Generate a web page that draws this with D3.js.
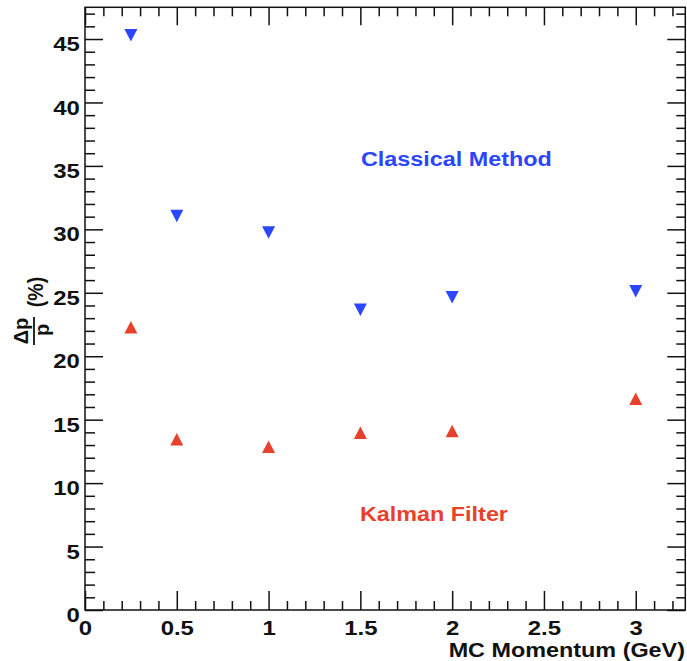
<!DOCTYPE html>
<html>
<head>
<meta charset="utf-8">
<script src="https://cdn.jsdelivr.net/npm/d3@7/dist/d3.min.js"></script>
<style>
  html, body { margin: 0; padding: 0; background: #fff; }
  svg { display: block; }
  text { font-family: "Liberation Sans", Arial, Helvetica, sans-serif; font-weight: bold; }
</style>
</head>
<body>
<svg id="chart" width="687" height="661"></svg>
<script>
// Momentum points (GeV)
const momentum = [0.25, 0.5, 1.0, 1.5, 2.0, 3.0];
// Relative momentum resolution Δp/p (%)
const classicalRes = [45.3, 31.05, 29.75, 23.66, 24.65, 25.12];
const kalmanRes    = [22.28, 13.45, 12.87, 13.97, 14.1, 16.65];

const xMajorTicks = [0, 0.5, 1, 1.5, 2, 2.5, 3];
const yMajorTicks = [0, 5, 10, 15, 20, 25, 30, 35, 40, 45];
const xDomain = [0, 3.27];
const yDomain = [0, 47.5];

const seriesLabels = ["Classical Method", "Kalman Filter"];
const xTitle = "MC Momentum (GeV)";

const blue = "#2a46ff";
const red = "#e8412b";
const stretch = 1.14;

const frame = { left: 85, right: 685.3, top: 7.3, bottom: 610 };

const svg = d3.select("#chart");

const x = d3.scaleLinear().domain(xDomain).range([frame.left, frame.right]);
const y = d3.scaleLinear().domain(yDomain).range([frame.bottom, frame.top]);

const xMinor = d3.range(0, 3.25, 0.1).map(v => +v.toFixed(2)).filter(v => Math.abs(v * 2 - Math.round(v * 2)) > 1e-6);
const yMinor = d3.range(0, 48, 1).filter(v => v % 5 !== 0);

const fmt = d => (d === 0 ? "0" : d3.format("~g")(d));

function styleAxis(g) {
  g.select(".domain").remove();
  g.selectAll(".tick line").attr("stroke", "#111").attr("stroke-width", 1.5);
  g.selectAll(".tick text")
    .attr("fill", "#111")
    .style("font-size", "21px")
    .style("font-weight", "bold");
}

// bottom axis: major ticks with labels, minor ticks
svg.append("g")
  .attr("transform", `translate(0,${frame.bottom})`)
  .call(d3.axisBottom(x).tickValues(xMajorTicks).tickSize(-19).tickPadding(10.5).tickFormat(fmt))
  .call(styleAxis)
  .call(g => g.selectAll(".tick text").attr("transform", `scale(${stretch},1)`));
svg.append("g")
  .attr("transform", `translate(0,${frame.bottom})`)
  .call(d3.axisBottom(x).tickValues(xMinor).tickSize(-9).tickFormat(""))
  .call(styleAxis);

// top axis ticks
svg.append("g")
  .attr("transform", `translate(0,${frame.top})`)
  .call(d3.axisTop(x).tickValues(xMajorTicks).tickSize(-18).tickFormat(""))
  .call(styleAxis);
svg.append("g")
  .attr("transform", `translate(0,${frame.top})`)
  .call(d3.axisTop(x).tickValues(xMinor).tickSize(-9).tickFormat(""))
  .call(styleAxis);

// left axis
svg.append("g")
  .attr("transform", `translate(${frame.left},0)`)
  .call(d3.axisLeft(y).tickValues(yMajorTicks).tickSize(-18).tickPadding(4.5).tickFormat(fmt))
  .call(styleAxis)
  .call(g => g.selectAll(".tick text")
    .attr("dy", "0.55em")
    .attr("transform", `scale(${stretch},1)`));
svg.append("g")
  .attr("transform", `translate(${frame.left},0)`)
  .call(d3.axisLeft(y).tickValues(yMinor).tickSize(-10).tickFormat(""))
  .call(styleAxis);

// right axis ticks
svg.append("g")
  .attr("transform", `translate(${frame.right},0)`)
  .call(d3.axisRight(y).tickValues(yMajorTicks).tickSize(-18).tickFormat(""))
  .call(styleAxis);
svg.append("g")
  .attr("transform", `translate(${frame.right},0)`)
  .call(d3.axisRight(y).tickValues(yMinor).tickSize(-9).tickFormat(""))
  .call(styleAxis);

// frame
svg.append("rect")
  .attr("x", frame.left).attr("y", frame.top)
  .attr("width", frame.right - frame.left).attr("height", frame.bottom - frame.top)
  .attr("fill", "none").attr("stroke", "#111").attr("stroke-width", 1.5);

// triangle markers centred on their bounding box
const tw = 13, th = 12.5;
const triUp = { draw(ctx) { ctx.moveTo(0, -th / 2); ctx.lineTo(tw / 2, th / 2); ctx.lineTo(-tw / 2, th / 2); ctx.closePath(); } };
const triDown = { draw(ctx) { ctx.moveTo(0, th / 2); ctx.lineTo(tw / 2, -th / 2); ctx.lineTo(-tw / 2, -th / 2); ctx.closePath(); } };

svg.append("g").selectAll("path")
  .data(momentum.map((m, i) => [m, classicalRes[i]]))
  .join("path")
  .attr("transform", d => `translate(${x(d[0])},${y(d[1])})`)
  .attr("d", d3.symbol().type(triDown))
  .attr("fill", blue);

svg.append("g").selectAll("path")
  .data(momentum.map((m, i) => [m, kalmanRes[i]]))
  .join("path")
  .attr("transform", d => `translate(${x(d[0])},${y(d[1])})`)
  .attr("d", d3.symbol().type(triUp))
  .attr("fill", red);

// series annotations
svg.append("text")
  .attr("transform", `translate(361,165.5) scale(${stretch},1)`)
  .attr("fill", blue)
  .style("font-size", "20.5px")
  .text(seriesLabels[0]);
svg.append("text")
  .attr("transform", `translate(360,521) scale(${stretch},1)`)
  .attr("fill", red)
  .style("font-size", "20.5px")
  .text(seriesLabels[1]);

// x-axis title
svg.append("text")
  .attr("transform", `translate(685,656.5) scale(1.2,1)`)
  .attr("text-anchor", "end")
  .attr("fill", "#111")
  .style("font-size", "19.5px")
  .text(xTitle);

// y-axis title: Δp/p (%) as a rotated fraction
const yt = svg.append("g").attr("fill", "#111");
yt.append("text")
  .attr("transform", `translate(28,331) rotate(-90)`)
  .attr("text-anchor", "middle")
  .style("font-size", "20px")
  .text("Δp");
yt.append("line")
  .attr("x1", 34).attr("x2", 34)
  .attr("y1", 317).attr("y2", 345)
  .attr("stroke", "#111").attr("stroke-width", 1.8);
yt.append("text")
  .attr("transform", `translate(48.5,330) rotate(-90)`)
  .attr("text-anchor", "middle")
  .style("font-size", "20px")
  .text("p");
yt.append("text")
  .attr("transform", `translate(43,292) scale(${stretch},1) rotate(-90)`)
  .attr("text-anchor", "middle")
  .style("font-size", "19.5px")
  .text("(%)");
</script>
</body>
</html>
